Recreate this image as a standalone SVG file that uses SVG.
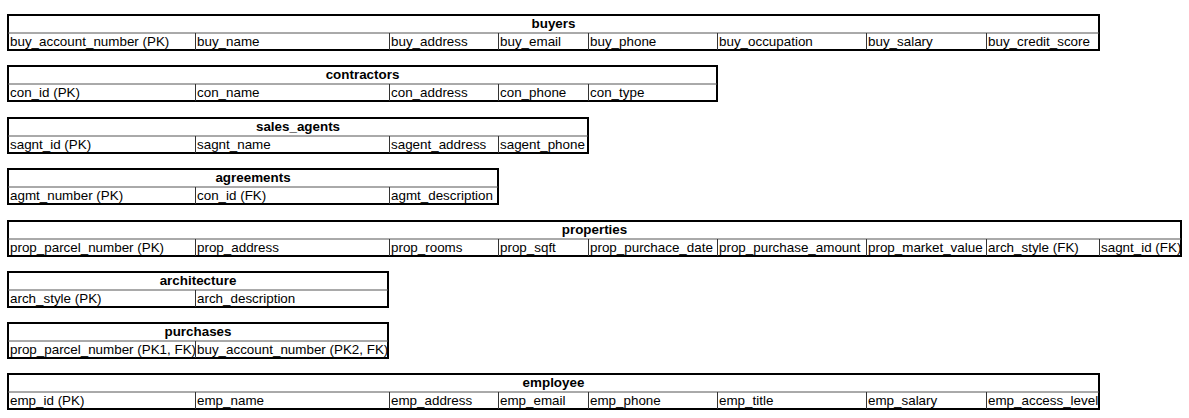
<svg xmlns="http://www.w3.org/2000/svg" width="1189" height="418" viewBox="0 0 1189 418">
<style>
.bg{fill:#fff}
.frame{fill:none;stroke:#000;stroke-width:2}
.sep{stroke:#555;stroke-width:1}
.col{stroke:#333;stroke-width:1}
.t{font-family:"Liberation Sans",Arial,sans-serif;font-size:13.4px;fill:#000}
.h{font-family:"Liberation Sans",Arial,sans-serif;font-size:13.4px;font-weight:bold;fill:#000;text-anchor:middle}
</style>
<defs>
<clipPath id="cA"><rect x="8" y="18" width="187" height="17"/></clipPath>
<clipPath id="cB"><rect x="196" y="18" width="191" height="17"/></clipPath>
<clipPath id="cC"><rect x="1100" y="18" width="80" height="17"/></clipPath>
</defs>
<rect width="1189" height="418" fill="#fff"/>
<g id="buyers" transform="translate(0,15)">
<rect class="frame" x="8" y="0" width="1091" height="35"/>
<line class="sep" x1="8" y1="18" x2="1099" y2="18"/>
<path class="col" d="M195.5 18V35M389.5 18V35M498.5 18V35M588.5 18V35M717.5 18V35M866.5 18V35M986.5 18V35"/>
<text class="h" x="553.5" y="13">buyers</text>
<text class="t" x="10" y="31">buy_account_number (PK)</text>
<text class="t" x="197" y="31">buy_name</text>
<text class="t" x="391" y="31">buy_address</text>
<text class="t" x="500" y="31">buy_email</text>
<text class="t" x="590" y="31">buy_phone</text>
<text class="t" x="719" y="31">buy_occupation</text>
<text class="t" x="868" y="31">buy_salary</text>
<text class="t" x="988" y="31">buy_credit_score</text>
</g>
<g id="contractors" transform="translate(0,66)">
<rect class="frame" x="8" y="0" width="709" height="35"/>
<line class="sep" x1="8" y1="18" x2="717" y2="18"/>
<path class="col" d="M195.5 18V35M389.5 18V35M498.5 18V35M588.5 18V35"/>
<text class="h" x="362.5" y="13">contractors</text>
<text class="t" x="10" y="31">con_id (PK)</text>
<text class="t" x="197" y="31">con_name</text>
<text class="t" x="391" y="31">con_address</text>
<text class="t" x="500" y="31">con_phone</text>
<text class="t" x="590" y="31">con_type</text>
</g>
<g id="sales_agents" transform="translate(0,118)">
<rect class="frame" x="8" y="0" width="580" height="35"/>
<line class="sep" x1="8" y1="18" x2="588" y2="18"/>
<path class="col" d="M195.5 18V35M389.5 18V35M498.5 18V35"/>
<text class="h" x="298" y="13">sales_agents</text>
<text class="t" x="10" y="31">sagnt_id (PK)</text>
<text class="t" x="197" y="31">sagnt_name</text>
<text class="t" x="391" y="31">sagent_address</text>
<text class="t" x="500" y="31">sagent_phone</text>
</g>
<g id="agreements" transform="translate(0,169)">
<rect class="frame" x="8" y="0" width="490" height="35"/>
<line class="sep" x1="8" y1="18" x2="498" y2="18"/>
<path class="col" d="M195.5 18V35M389.5 18V35"/>
<text class="h" x="253" y="13">agreements</text>
<text class="t" x="10" y="31">agmt_number (PK)</text>
<text class="t" x="197" y="31">con_id (FK)</text>
<text class="t" x="391" y="31">agmt_description</text>
</g>
<g id="properties" transform="translate(0,221)">
<rect class="frame" x="8" y="0" width="1173" height="35"/>
<line class="sep" x1="8" y1="18" x2="1181" y2="18"/>
<path class="col" d="M195.5 18V35M389.5 18V35M498.5 18V35M588.5 18V35M717.5 18V35M866.5 18V35M986.5 18V35M1099.5 18V35"/>
<text class="h" x="594.5" y="13">properties</text>
<text class="t" x="10" y="31">prop_parcel_number (PK)</text>
<text class="t" x="197" y="31">prop_address</text>
<text class="t" x="391" y="31">prop_rooms</text>
<text class="t" x="500" y="31">prop_sqft</text>
<text class="t" x="590" y="31">prop_purchace_date</text>
<text class="t" x="719" y="31">prop_purchase_amount</text>
<text class="t" x="868" y="31">prop_market_value</text>
<text class="t" x="988" y="31">arch_style (FK)</text>
<text class="t" x="1101" y="31" clip-path="url(#cC)">sagnt_id (FK)</text>
</g>
<g id="architecture" transform="translate(0,272)">
<rect class="frame" x="8" y="0" width="380" height="35"/>
<line class="sep" x1="8" y1="18" x2="388" y2="18"/>
<path class="col" d="M195.5 18V35"/>
<text class="h" x="198" y="13">architecture</text>
<text class="t" x="10" y="31">arch_style (PK)</text>
<text class="t" x="197" y="31">arch_description</text>
</g>
<g id="purchases" transform="translate(0,323)">
<rect class="frame" x="8" y="0" width="380" height="35"/>
<line class="sep" x1="8" y1="18" x2="388" y2="18"/>
<path class="col" d="M195.5 18V35"/>
<text class="h" x="198" y="13">purchases</text>
<text class="t" x="10" y="31" clip-path="url(#cA)">prop_parcel_number (PK1, FK)</text>
<text class="t" x="197" y="31" clip-path="url(#cB)">buy_account_number (PK2, FK)</text>
</g>
<g id="employee" transform="translate(0,374)">
<rect class="frame" x="8" y="0" width="1091" height="35"/>
<line class="sep" x1="8" y1="18" x2="1099" y2="18"/>
<path class="col" d="M195.5 18V35M389.5 18V35M498.5 18V35M588.5 18V35M717.5 18V35M866.5 18V35M986.5 18V35"/>
<text class="h" x="553.5" y="13">employee</text>
<text class="t" x="10" y="31">emp_id (PK)</text>
<text class="t" x="197" y="31">emp_name</text>
<text class="t" x="391" y="31">emp_address</text>
<text class="t" x="500" y="31">emp_email</text>
<text class="t" x="590" y="31">emp_phone</text>
<text class="t" x="719" y="31">emp_title</text>
<text class="t" x="868" y="31">emp_salary</text>
<text class="t" x="988" y="31">emp_access_level</text>
</g>
<g id="connectors"/>
</svg>
